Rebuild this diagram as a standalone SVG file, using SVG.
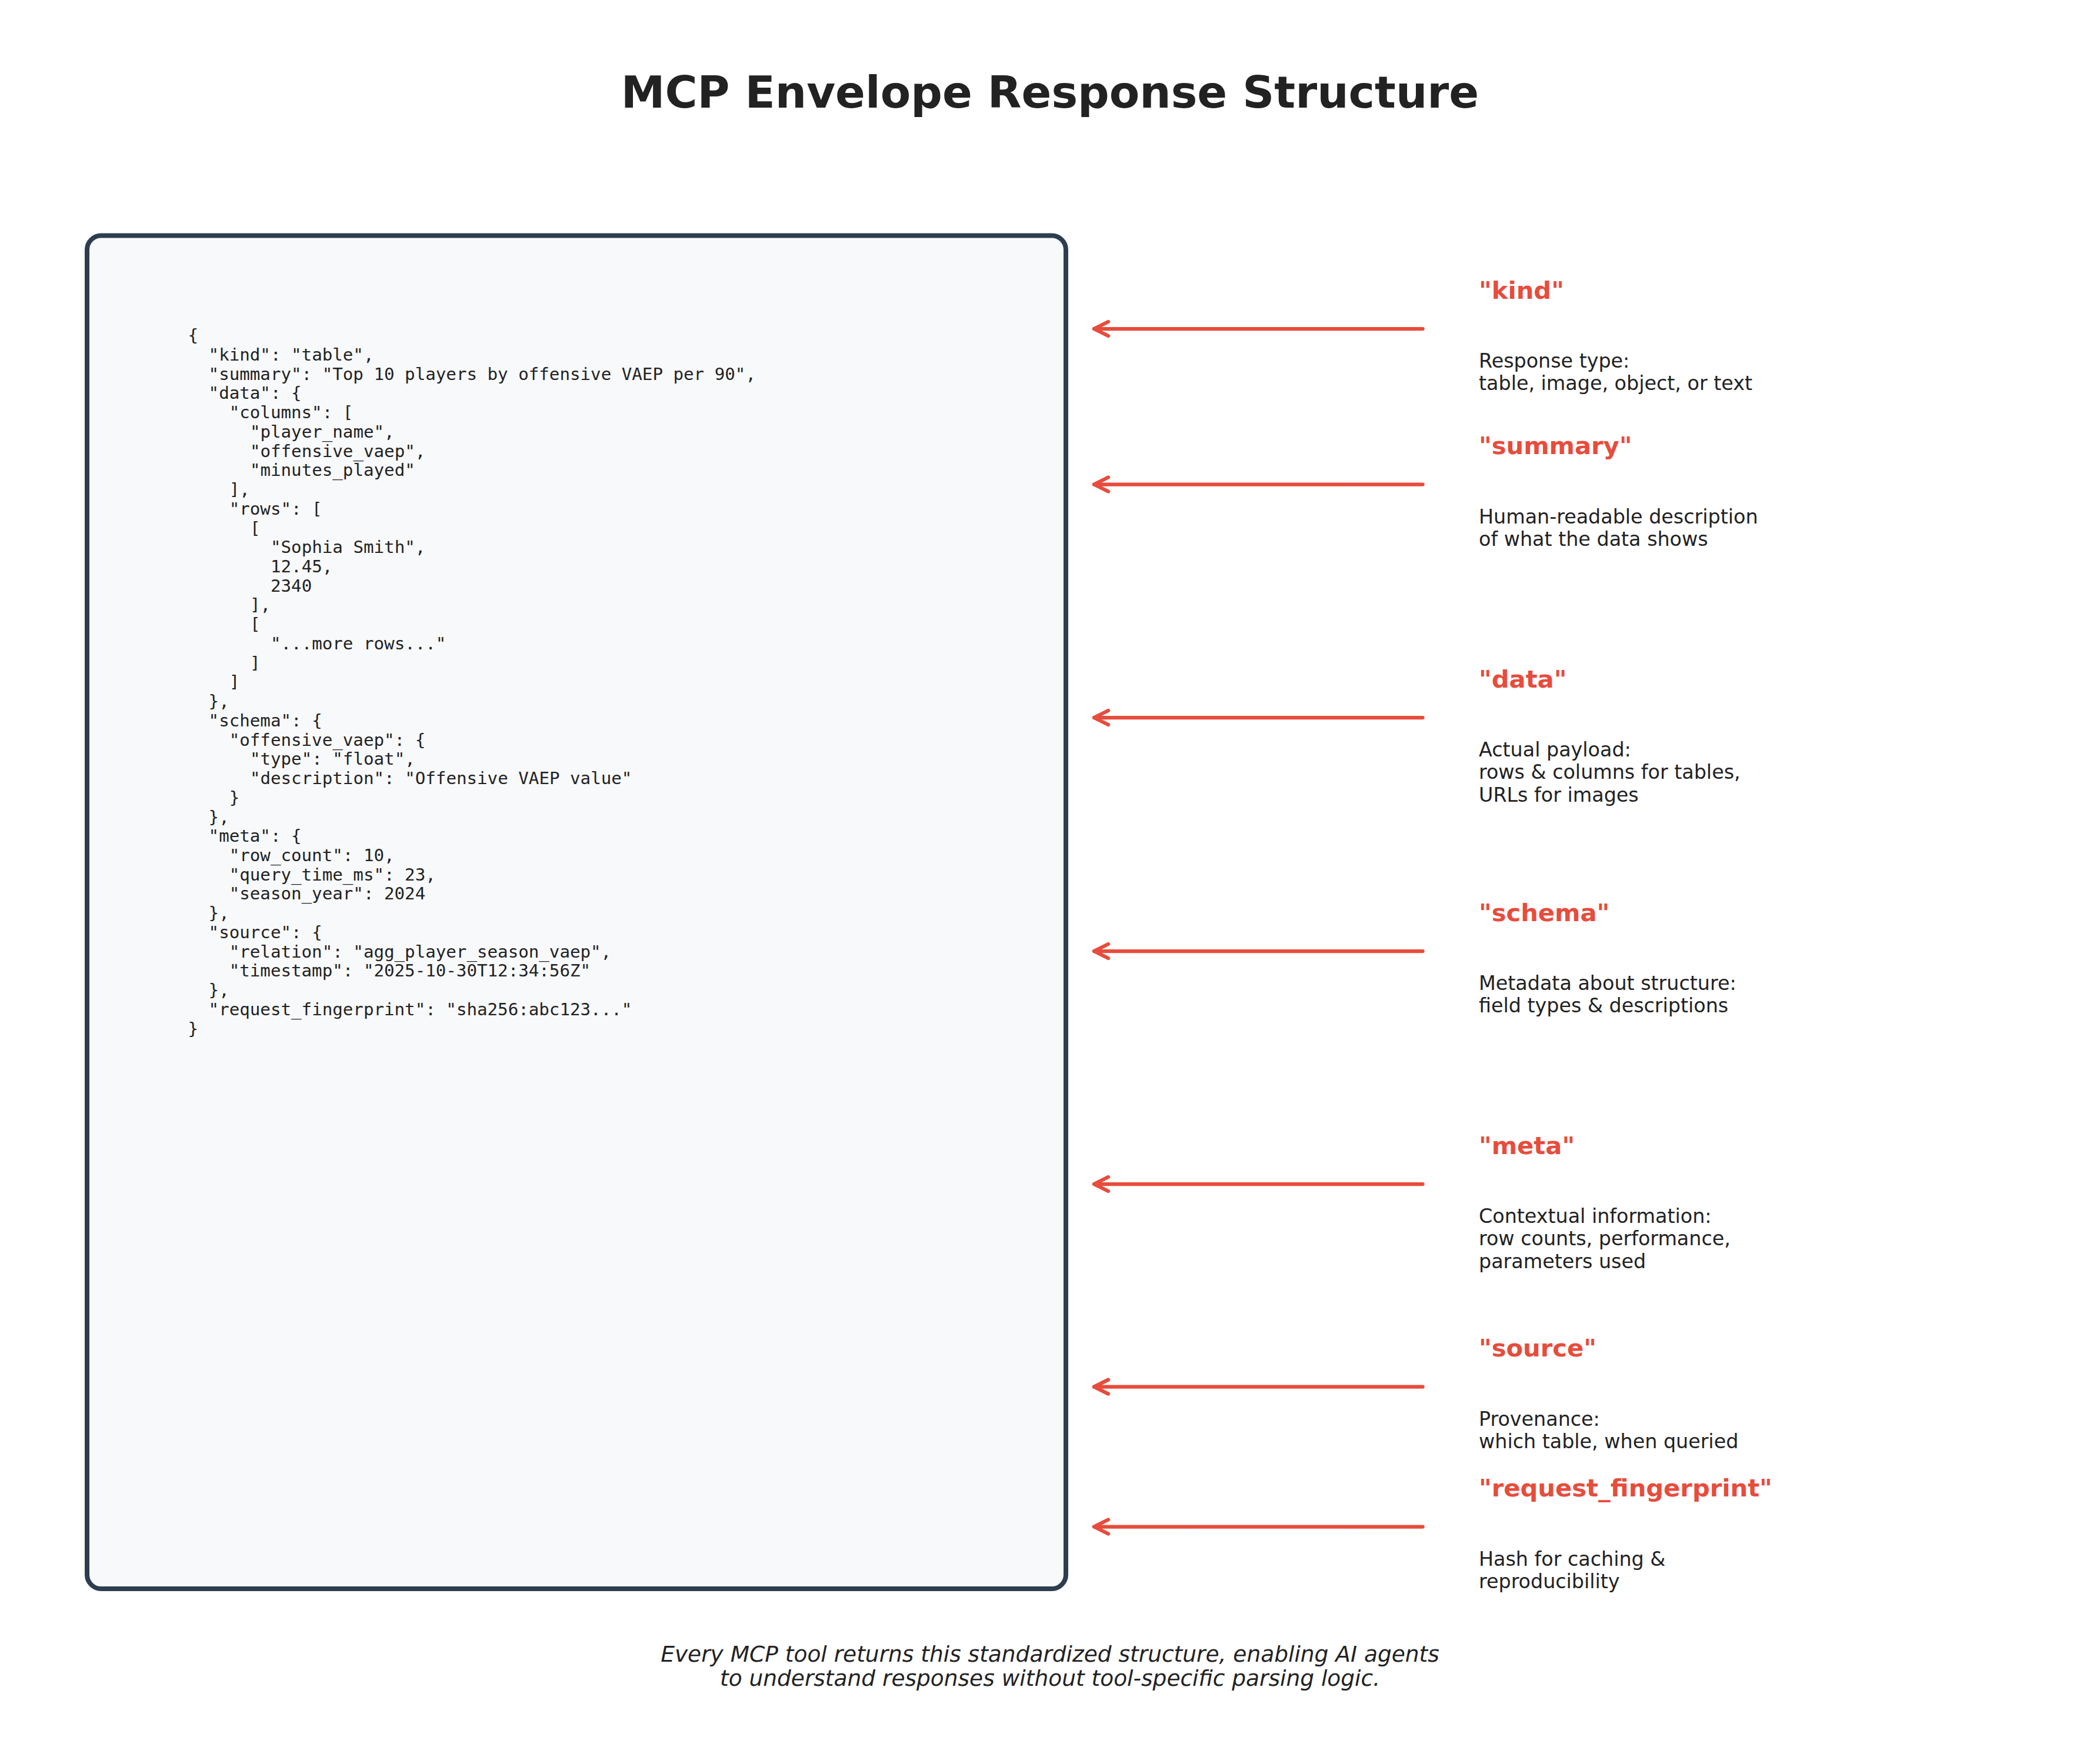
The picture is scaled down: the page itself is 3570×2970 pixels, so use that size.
<svg xmlns="http://www.w3.org/2000/svg" width="3570" height="2970" viewBox="0 0 3570 2970">
<style>
.title{font-family:"DejaVu Sans","Liberation Sans",sans-serif;font-weight:bold;font-size:75px;fill:#222222;text-anchor:middle}
.code{font-family:"DejaVu Sans Mono","Liberation Mono",monospace;font-size:29.17px;fill:#222222}
.key{font-family:"DejaVu Sans","Liberation Sans",sans-serif;font-weight:bold;font-size:41.67px;fill:#E74C3C}
.desc{font-family:"DejaVu Sans","Liberation Sans",sans-serif;font-size:33.33px;fill:#222222}
.foot{font-family:"DejaVu Sans","Liberation Sans",sans-serif;font-style:italic;font-size:37.5px;fill:#222222;text-anchor:middle}
.arrow{stroke:#E74C3C;stroke-width:6.25;stroke-linecap:round;fill:none;marker-end:url(#head)}
</style>
<defs>
<marker id="head" markerUnits="userSpaceOnUse" viewBox="-30 -16 34 32" refX="0" refY="0" markerWidth="34" markerHeight="32" orient="auto" overflow="visible">
<path d="M-24,-12 L0,0 L-24,12" fill="none" stroke="#E74C3C" stroke-width="6.25" stroke-linecap="round" stroke-linejoin="round"/>
</marker>
</defs>
<rect x="0" y="0" width="3570" height="2970" fill="#FFFFFF"/>
<text class="title" x="1785" y="183">MCP Envelope Response Structure</text>

<g id="envelope">
<rect x="148" y="400.5" width="1664" height="2300.5" rx="24" ry="24" fill="#F8F9FA" stroke="#2C3E50" stroke-width="8"/>
<text class="code" x="319.5" y="580.2">{</text>
<text class="code" x="354.6" y="612.9">"kind": "table",</text>
<text class="code" x="354.6" y="645.7">"summary": "Top 10 players by offensive VAEP per 90",</text>
<text class="code" x="354.6" y="678.4">"data": {</text>
<text class="code" x="389.7" y="711.1">"columns": [</text>
<text class="code" x="424.9" y="743.9">"player_name",</text>
<text class="code" x="424.9" y="776.6">"offensive_vaep",</text>
<text class="code" x="424.9" y="809.3">"minutes_played"</text>
<text class="code" x="389.7" y="842.0">],</text>
<text class="code" x="389.7" y="874.8">"rows": [</text>
<text class="code" x="424.9" y="907.5">[</text>
<text class="code" x="460.0" y="940.2">"Sophia Smith",</text>
<text class="code" x="460.0" y="973.0">12.45,</text>
<text class="code" x="460.0" y="1005.7">2340</text>
<text class="code" x="424.9" y="1038.4">],</text>
<text class="code" x="424.9" y="1071.2">[</text>
<text class="code" x="460.0" y="1103.9">"...more rows..."</text>
<text class="code" x="424.9" y="1136.6">]</text>
<text class="code" x="389.7" y="1169.3">]</text>
<text class="code" x="354.6" y="1202.1">},</text>
<text class="code" x="354.6" y="1234.8">"schema": {</text>
<text class="code" x="389.7" y="1267.5">"offensive_vaep": {</text>
<text class="code" x="424.9" y="1300.3">"type": "float",</text>
<text class="code" x="424.9" y="1333.0">"description": "Offensive VAEP value"</text>
<text class="code" x="389.7" y="1365.7">}</text>
<text class="code" x="354.6" y="1398.5">},</text>
<text class="code" x="354.6" y="1431.2">"meta": {</text>
<text class="code" x="389.7" y="1463.9">"row_count": 10,</text>
<text class="code" x="389.7" y="1496.6">"query_time_ms": 23,</text>
<text class="code" x="389.7" y="1529.4">"season_year": 2024</text>
<text class="code" x="354.6" y="1562.1">},</text>
<text class="code" x="354.6" y="1594.8">"source": {</text>
<text class="code" x="389.7" y="1627.6">"relation": "agg_player_season_vaep",</text>
<text class="code" x="389.7" y="1660.3">"timestamp": "2025-10-30T12:34:56Z"</text>
<text class="code" x="354.6" y="1693.0">},</text>
<text class="code" x="354.6" y="1725.8">"request_fingerprint": "sha256:abc123..."</text>
<text class="code" x="319.5" y="1758.5">}</text>
</g>

<g id="connectors">
<line class="arrow" x1="2418.6" y1="559" x2="1860" y2="559"/>
<line class="arrow" x1="2418.6" y1="823.5" x2="1860" y2="823.5"/>
<line class="arrow" x1="2418.6" y1="1220" x2="1860" y2="1220"/>
<line class="arrow" x1="2418.6" y1="1617" x2="1860" y2="1617"/>
<line class="arrow" x1="2418.6" y1="2013" x2="1860" y2="2013"/>
<line class="arrow" x1="2418.6" y1="2357.6" x2="1860" y2="2357.6"/>
<line class="arrow" x1="2418.6" y1="2595.5" x2="1860" y2="2595.5"/>
</g>

<g id="label-kind">
<text class="key" x="2514" y="507.5">"kind"</text>
<text class="desc" x="2514" y="625"><tspan x="2514">Response type:</tspan><tspan x="2514" dy="38.3">table, image, object, or text</tspan></text>
</g>
<g id="label-summary">
<text class="key" x="2514" y="772">"summary"</text>
<text class="desc" x="2514" y="889.5"><tspan x="2514">Human-readable description</tspan><tspan x="2514" dy="38.3">of what the data shows</tspan></text>
</g>
<g id="label-data">
<text class="key" x="2514" y="1168.5">"data"</text>
<text class="desc" x="2514" y="1286"><tspan x="2514">Actual payload:</tspan><tspan x="2514" dy="38.3">rows &amp; columns for tables,</tspan><tspan x="2514" dy="38.3">URLs for images</tspan></text>
</g>
<g id="label-schema">
<text class="key" x="2514" y="1565.5">"schema"</text>
<text class="desc" x="2514" y="1683"><tspan x="2514">Metadata about structure:</tspan><tspan x="2514" dy="38.3">field types &amp; descriptions</tspan></text>
</g>
<g id="label-meta">
<text class="key" x="2514" y="1961.5">"meta"</text>
<text class="desc" x="2514" y="2079"><tspan x="2514">Contextual information:</tspan><tspan x="2514" dy="38.3">row counts, performance,</tspan><tspan x="2514" dy="38.3">parameters used</tspan></text>
</g>
<g id="label-source">
<text class="key" x="2514" y="2306">"source"</text>
<text class="desc" x="2514" y="2423.6"><tspan x="2514">Provenance:</tspan><tspan x="2514" dy="38.3">which table, when queried</tspan></text>
</g>
<g id="label-request_fingerprint">
<text class="key" x="2514" y="2544">"request_fingerprint"</text>
<text class="desc" x="2514" y="2661.5"><tspan x="2514">Hash for caching &amp;</tspan><tspan x="2514" dy="38.3">reproducibility</tspan></text>
</g>

<g id="footer">
<text class="foot" x="1785" y="2824.5">Every MCP tool returns this standardized structure, enabling AI agents</text>
<text class="foot" x="1785" y="2866">to understand responses without tool-specific parsing logic.</text>
</g>
</svg>
